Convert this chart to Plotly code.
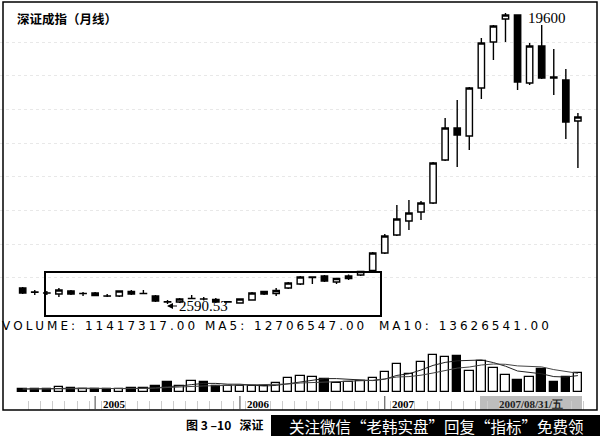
import plotly.graph_objects as go
import pandas as pd

# ---------------- data (monthly, Jul 2004 - May 2008) ----------------
months = pd.date_range("2004-07-01", periods=47, freq="MS").strftime("%Y-%m").tolist()

opens = [3530, 3290, 3240, 3176, 3351, 3200, 3234, 3060, 3059, 3322,
         3200, 3059, 2720, 2708, 2910, 2890, 2855, 2710, 2650, 2826,
         3176, 3205, 3526, 3760, 4140, 4228, 3877, 4082, 4286, 4549,
         5572, 6624, 7442, 7969, 8495, 11008, 12878, 12411, 15216, 17905,
         19249, 19483, 15509, 17671, 15859, 15684, 13287]
highs = [3585, 3410, 3350, 3526, 3410, 3290, 3293, 3176, 3370, 3410,
         3410, 3118, 2826, 2942, 3118, 3001, 2942, 2767, 2890, 3293,
         3351, 3526, 3877, 4228, 4180, 4286, 4112, 4315, 4520, 5631,
         6682, 8378, 8670, 8611, 10891, 13463, 14515, 15275, 18139, 18899,
         19600, 19500, 17847, 18899, 17496, 16327, 13755]
lows = [3176, 3120, 3120, 3001, 3118, 3060, 3059, 3001, 3001, 3118,
        3176, 2708, 2590.53, 2650, 2884, 2796, 2650, 2680, 2640, 2810,
        3118, 3059, 3468, 3702, 3760, 3877, 3760, 3995, 4228, 4520,
        5514, 6566, 6916, 7501, 8436, 10949, 10599, 11592, 14573, 16853,
        17905, 15099, 15392, 15742, 14807, 12235, 10540]
closes = [3234, 3270, 3230, 3410, 3176, 3210, 3088, 3050, 3351, 3176,
          3210, 2767, 2710, 2884, 2920, 2880, 2708, 2720, 2884, 3234,
          3322, 3380, 3819, 4170, 4170, 3936, 4082, 4228, 4491, 5572,
          6566, 7559, 7910, 8495, 10833, 12878, 12468, 15216, 17847, 18840,
          19483, 15567, 17671, 15801, 15801, 13228, 13521]
volumes = [1630000, 1630000, 1900000, 2720000, 2170000, 1900000, 1900000, 1630000, 1630000, 2170000,
           2170000, 3260000, 5440000, 3260000, 5980000, 5440000, 3260000, 3260000, 3260000, 3260000,
           3260000, 4890000, 7610000, 8700000, 8160000, 7070000, 4890000, 5440000, 5980000, 7610000,
           10870000, 15220000, 9790000, 16310000, 20120000, 19030000, 19570000, 11417317, 16850000, 13050000,
           9240000, 6520000, 8160000, 12500000, 5440000, 8160000, 10330000]

x = list(range(len(months)))
vol_s = pd.Series(volumes, dtype=float)
ma5 = vol_s.rolling(5, min_periods=1).mean().tolist()
ma10 = vol_s.rolling(10, min_periods=1).mean().tolist()
vol_colors = ["white" if c >= o else "black" for o, c in zip(opens, closes)]

year_labels = ["2005", "2006", "2007"]
year_pos = [6, 18, 30]

W, H = 600, 436
PLOT_H = 410


def px(xp):
    return xp / W


def py(yp):
    return 1 - yp / PLOT_H


def spaced(s):
    return "\u2005".join(s)


fig = go.Figure()

fig.add_trace(go.Candlestick(
    x=x, open=opens, high=highs, low=lows, close=closes,
    increasing=dict(line=dict(color="black", width=1.4), fillcolor="white"),
    decreasing=dict(line=dict(color="black", width=1.4), fillcolor="black"),
    whiskerwidth=0, showlegend=False, hoverinfo="skip", yaxis="y"))

fig.add_trace(go.Bar(
    x=x, y=volumes, width=0.7, yaxis="y2",
    marker=dict(color=vol_colors, line=dict(color="black", width=1.3)),
    showlegend=False, hoverinfo="skip"))

fig.add_trace(go.Scatter(x=x, y=ma5, mode="lines", yaxis="y2",
                         line=dict(color="#222222", width=1), showlegend=False, hoverinfo="skip"))
fig.add_trace(go.Scatter(x=x, y=ma10, mode="lines", yaxis="y2",
                         line=dict(color="#444444", width=1), showlegend=False, hoverinfo="skip"))

# price scale: 19600 at y=13px, 2590.53 at y=304px
ppp = (19600 - 2590.53) / (304 - 13)
p_top = 19600 + 13 * ppp
p_bot = 19600 - (PLOT_H - 13) * ppp
# volume scale: baseline at y=392px
vpp = 11417317 / 21.0
v_top = 392 * vpp
v_bot = -(PLOT_H - 392) * vpp

grid_vals = [4129, 6097, 8065, 10033, 12001, 13969, 15937, 17905]

fig.update_layout(
    width=W, height=H, margin=dict(l=0, r=0, t=0, b=H - PLOT_H),
    paper_bgcolor="white", plot_bgcolor="white",
    boxgap=0.25,
    xaxis=dict(range=[-1.88, 47.83], showgrid=False, zeroline=False,
               showticklabels=False, rangeslider=dict(visible=False),
               tickvals=[i - 0.5 for i in range(1, 48)], ticks="inside",
               ticklen=9, tickcolor="#cccccc", tickwidth=1, showline=False),
    yaxis=dict(range=[p_bot, p_top], showticklabels=False, zeroline=False,
               tickvals=grid_vals, showgrid=True, gridcolor="#e8e8e8",
               griddash="dot", gridwidth=1),
    yaxis2=dict(range=[v_bot, v_top], overlaying="y", showticklabels=False,
                showgrid=False, zeroline=False),
    bargap=0,
)

shapes = []
# outer frame
shapes.append(dict(type="rect", xref="paper", yref="paper", x0=px(3), x1=px(597),
                   y0=py(410), y1=py(2), line=dict(color="black", width=1.5)))
# highlight box around the bottom consolidation
shapes.append(dict(type="rect", xref="paper", yref="paper", x0=px(45), x1=px(381),
                   y0=py(316), y1=py(272), line=dict(color="black", width=2)))
# year tick marks
for p in year_pos:
    shapes.append(dict(type="line", xref="x", yref="paper", x0=p, x1=p,
                       y0=py(409), y1=py(396), line=dict(color="#444444", width=1)))
# cursor date box
shapes.append(dict(type="rect", xref="paper", yref="paper", x0=px(480), x1=px(582),
                   y0=py(410), y1=py(396), fillcolor="#bdbdbd", line=dict(width=0), layer="below"))
# watermark box
shapes.append(dict(type="rect", xref="paper", yref="paper", x0=px(271), x1=1.02,
                   y0=-0.2, y1=py(415), fillcolor="black", line=dict(width=0), layer="above"))
fig.update_layout(shapes=shapes)

ann = []
ann.append(dict(xref="paper", yref="paper", x=px(15), y=py(18), xanchor="left", yanchor="middle",
                text="<b>深证成指（月线）</b>", showarrow=False,
                font=dict(family="Noto Sans CJK SC", size=12.5, color="black")))
ann.append(dict(xref="paper", yref="paper", x=px(526), y=py(18), xanchor="left", yanchor="middle",
                text="19600", showarrow=False,
                font=dict(family="Liberation Serif", size=15, color="black")))
ann.append(dict(xref="paper", yref="paper", x=px(167), y=py(306), ax=36, ay=0,
                axref="pixel", ayref="pixel", text="2590.53", showarrow=True,
                arrowhead=2, arrowsize=1, arrowwidth=1.2, arrowcolor="black",
                font=dict(family="Liberation Serif", size=15, color="black")))
vol_texts = ["VOLUME: 11417317.00", "MA5: 12706547.00", "MA10: 13626541.00"]
vol_x = [0, 203, 377]
for t, xx in zip(vol_texts, vol_x):
    ann.append(dict(xref="paper", yref="paper", x=px(xx), y=py(326), xanchor="left", yanchor="middle",
                    text=spaced(t), showarrow=False,
                    font=dict(family="DejaVu Sans", size=12, color="black")))
for lab, p in zip(year_labels, year_pos):
    ann.append(dict(xref="x", yref="paper", x=p + 0.45, y=py(404), xanchor="left", yanchor="middle",
                    text="<b>" + lab + "</b>", showarrow=False,
                    font=dict(family="Liberation Serif", size=11, color="black")))
ann.append(dict(xref="paper", yref="paper", x=px(531), y=py(404), xanchor="center", yanchor="middle",
                text="<b>2007/08/31/五</b>", showarrow=False,
                font=dict(family="Liberation Serif", size=11, color="#222222")))
ann.append(dict(xref="paper", yref="paper", x=px(184), y=1 - 424 / PLOT_H, xanchor="left", yanchor="middle",
                text="<b>图 3 –10   深证</b>", showarrow=False,
                font=dict(family="Noto Sans CJK SC", size=12, color="black")))
ann.append(dict(xref="paper", yref="paper", x=px(436), y=1 - 425.5 / PLOT_H, xanchor="center", yanchor="middle",
                text="关注微信“老韩实盘”回复“指标”免费领", showarrow=False,
                font=dict(family="Noto Sans CJK SC", size=15.5, color="white")))
fig.update_layout(annotations=ann)

fig.write_html("out.html", config={"displayModeBar": False},
               post_script="document.body.style.margin='0';")
